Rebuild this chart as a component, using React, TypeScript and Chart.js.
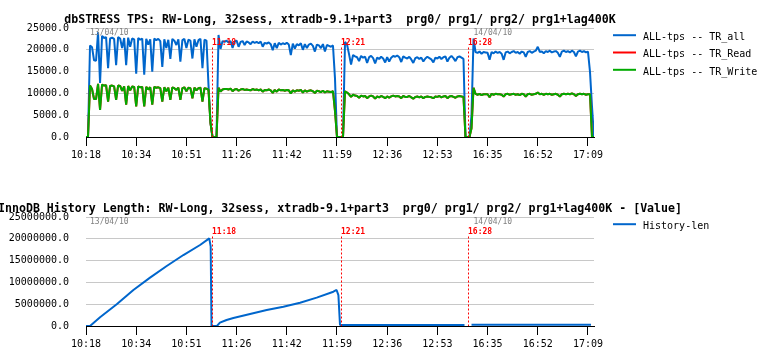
import React, { useEffect, useRef } from 'react';
import { Chart, registerables } from 'chart.js';

Chart.register(...registerables);

// ---------- data ----------
const timeLabels = ['10:18', '10:34', '10:51', '11:26', '11:42', '11:59', '12:36', '12:53', '16:35', '16:52', '17:09'];
const tickIdx = [0, 25, 50, 75, 100, 125, 150, 175, 200, 225, 250];
const sampleMax = 253;

const markerIdx = [63, 127, 190];
const markerLabels = ['11:18', '12:21', '16:28'];
const dateIdx = [2, 193];
const dateLabels = ['13/04/10', '14/04/10'];

const topTitle = 'dbSTRESS TPS: RW-Long, 32sess, xtradb-9.1+part3  prg0/ prg1/ prg2/ prg1+lag400K';
const bottomTitle = 'InnoDB History Length: RW-Long, 32sess, xtradb-9.1+part3  prg0/ prg1/ prg2/ prg1+lag400K - [Value]';

const tpsTicks = [0, 5000, 10000, 15000, 20000, 25000];
const histTicks = [0, 5000000, 10000000, 15000000, 20000000, 25000000];

const trAll: number[] = [
  0, 0, 21000, 20600, 17600, 17500, 24000, 12400, 23200, 22700,
  22900, 15800, 22600, 22800, 22500, 16500, 22900, 22600, 20400, 22700,
  16500, 22800, 20700, 22600, 22400, 14500, 22700, 22300, 22600, 14300,
  22500, 21200, 22400, 15000, 22600, 22200, 22500, 22000, 16100, 22400,
  20400, 22300, 17900, 22500, 22100, 21100, 22400, 17300, 22200, 22500,
  20400, 22300, 22100, 18000, 22400, 20700, 22200, 22500, 15800, 22300,
  22100, 12000, 3300, 0, 0, 0, 23400, 20200, 22000, 21800,
  22100, 21700, 22000, 20400, 21900, 22100, 20700, 21800, 22000, 21100,
  21900, 21700, 21300, 21900, 21600, 21800, 21500, 21900, 20700, 21600,
  21400, 21700, 21300, 19900, 21500, 20400, 21600, 21200, 21500, 21300,
  21600, 21200, 18800, 21400, 20300, 21300, 21000, 21500, 20000, 21300,
  20400, 21200, 21400, 20900, 19600, 21200, 21000, 20400, 21300, 19600,
  21100, 20900, 20700, 21000, 13500, 0, 0, 0, 0, 21800,
  21200, 19000, 16600, 18800, 18500, 18300, 17400, 18600, 18200, 18400,
  17000, 18300, 18600, 18100, 16900, 18200, 17900, 18400, 18000, 17100,
  18300, 17300, 18200, 18600, 18400, 18700, 18300, 17200, 18500, 18200,
  18000, 18400, 17800, 17000, 18100, 18300, 17900, 18200, 17300, 18000,
  18400, 18100, 17800, 17100, 18200, 18000, 18400, 17900, 18300, 18500,
  17300, 18200, 18600, 18100, 17400, 18300, 18500, 18200, 17900, 0,
  0, 0, 5000, 22600, 19500, 19300, 19600, 19100, 19500, 19400,
  19300, 17700, 19500, 19200, 19600, 19300, 19500, 19100, 17700, 19400,
  19600, 19200, 19500, 19700, 19300, 19500, 19100, 19600, 19400, 18400,
  19500, 19700, 19300, 19600, 19800, 20700, 19500, 19600, 19200, 19700,
  19500, 19800, 19400, 19600, 19700, 19300, 18400, 19600, 19800, 19500,
  19700, 19400, 19800, 19500, 18500, 19600, 19800, 19500, 19700, 19400,
  19600, 15000, 7000, 0,
];

const trWrite: number[] = [
  0, 0, 11800, 11000, 8700, 8700, 12200, 6200, 12000, 11800,
  11900, 8100, 11700, 11800, 11600, 8500, 11800, 11700, 10600, 11600,
  7400, 11700, 10700, 11600, 11500, 7000, 11600, 11400, 11500, 7000,
  11500, 10900, 11400, 7400, 11500, 11300, 11400, 11200, 8100, 11400,
  10500, 11300, 8500, 11400, 11200, 10800, 11300, 8500, 11200, 11400,
  10500, 11300, 11200, 8900, 11300, 10700, 11200, 11300, 8100, 11200,
  11100, 10800, 3200, 0, 0, 0, 11300, 10400, 10900, 11000,
  11000, 10900, 11100, 10500, 10900, 11000, 10600, 10900, 11000, 10800,
  10900, 10800, 10700, 11000, 10800, 10900, 10700, 10900, 10400, 10800,
  10700, 10900, 10700, 10100, 10800, 10400, 10900, 10700, 10800, 10600,
  10800, 10700, 10000, 10700, 10400, 10700, 10600, 10800, 10200, 10700,
  10400, 10600, 10700, 10500, 10100, 10600, 10500, 10300, 10600, 10200,
  10500, 10400, 10300, 10500, 6000, 0, 0, 0, 0, 10500,
  10200, 9800, 9200, 9700, 9500, 9400, 9000, 9500, 9300, 9400,
  8900, 9300, 9500, 9300, 8800, 9300, 9100, 9400, 9200, 8900,
  9300, 9000, 9300, 9500, 9300, 9400, 9300, 8900, 9400, 9200,
  9200, 9400, 9100, 8800, 9200, 9300, 9100, 9300, 8900, 9200,
  9300, 9200, 9100, 8900, 9300, 9200, 9400, 9100, 9300, 9400,
  8900, 9300, 9400, 9200, 9000, 9300, 9400, 9300, 9200, 0,
  0, 0, 2000, 11300, 9900, 9700, 9900, 9600, 9800, 9800,
  9800, 9100, 9900, 9700, 9900, 9800, 9800, 9700, 9300, 9800,
  9900, 9700, 9800, 9900, 9700, 9800, 9600, 9900, 9800, 9300,
  9800, 9900, 9700, 9800, 9900, 10200, 9800, 9900, 9700, 9900,
  9800, 9900, 9700, 9800, 9900, 9700, 9300, 9800, 9900, 9800,
  9900, 9800, 10000, 9800, 9400, 9800, 9900, 9800, 9900, 9700,
  9800, 9800, 0, 0,
];

// TR_Read is drawn beneath TR_Write and coincides with it in the picture
const trRead: number[] = [
  0, 0, 11800, 11000, 8700, 8700, 12200, 6200, 12000, 11800,
  11900, 8100, 11700, 11800, 11600, 8500, 11800, 11700, 10600, 11600,
  7400, 11700, 10700, 11600, 11500, 7000, 11600, 11400, 11500, 7000,
  11500, 10900, 11400, 7400, 11500, 11300, 11400, 11200, 8100, 11400,
  10500, 11300, 8500, 11400, 11200, 10800, 11300, 8500, 11200, 11400,
  10500, 11300, 11200, 8900, 11300, 10700, 11200, 11300, 8100, 11200,
  11100, 10800, 3200, 0, 0, 0, 11300, 10400, 10900, 11000,
  11000, 10900, 11100, 10500, 10900, 11000, 10600, 10900, 11000, 10800,
  10900, 10800, 10700, 11000, 10800, 10900, 10700, 10900, 10400, 10800,
  10700, 10900, 10700, 10100, 10800, 10400, 10900, 10700, 10800, 10600,
  10800, 10700, 10000, 10700, 10400, 10700, 10600, 10800, 10200, 10700,
  10400, 10600, 10700, 10500, 10100, 10600, 10500, 10300, 10600, 10200,
  10500, 10400, 10300, 10500, 6000, 0, 0, 0, 0, 10500,
  10200, 9800, 9200, 9700, 9500, 9400, 9000, 9500, 9300, 9400,
  8900, 9300, 9500, 9300, 8800, 9300, 9100, 9400, 9200, 8900,
  9300, 9000, 9300, 9500, 9300, 9400, 9300, 8900, 9400, 9200,
  9200, 9400, 9100, 8800, 9200, 9300, 9100, 9300, 8900, 9200,
  9300, 9200, 9100, 8900, 9300, 9200, 9400, 9100, 9300, 9400,
  8900, 9300, 9400, 9200, 9000, 9300, 9400, 9300, 9200, 0,
  0, 0, 2000, 11300, 9900, 9700, 9900, 9600, 9800, 9800,
  9800, 9100, 9900, 9700, 9900, 9800, 9800, 9700, 9300, 9800,
  9900, 9700, 9800, 9900, 9700, 9800, 9600, 9900, 9800, 9300,
  9800, 9900, 9700, 9800, 9900, 10200, 9800, 9900, 9700, 9900,
  9800, 9900, 9700, 9800, 9900, 9700, 9300, 9800, 9900, 9800,
  9900, 9800, 10000, 9800, 9400, 9800, 9900, 9800, 9900, 9700,
  9800, 9800, 0, 0,
];

const histIdx: number[] = [
  0, 2, 7, 15.3, 23.6, 31.9, 40.2, 48.5, 56.8, 61.4, 62.1, 62.5,
  65.2, 66.7, 70, 73.4, 81.7, 90, 98.3, 106.6, 114.9, 123.2, 124.8, 125.7, 126.1, 126.5,
  188.5, 190, 192, 251.5,
];
const histVal: (number | null)[] = [
  0, 0, 2000000, 4970000, 8260000, 11090000, 13760000, 16280000, 18580000, 20100000, 18200000, 0,
  0, 760000, 1380000, 1830000, 2750000, 3670000, 4430000, 5350000, 6500000, 7870000, 8260000, 7100000, 3670000, 250000,
  250000, null, 300000, 300000,
];

// ---------- styling ----------
const MONO = '"DejaVu Sans Mono", monospace';
const BLUE = '#0066cc';
const RED = '#ff0000';
const GREEN = '#00aa00';

function decorPlugin(title: string) {
  return {
    id: 'decor',
    afterDatasetsDraw(chart: any) {
      const { ctx, chartArea: a, scales } = chart;
      const xs = scales.x;
      ctx.save();
      // date labels
      ctx.font = '8px ' + MONO;
      ctx.fillStyle = '#808080';
      ctx.textAlign = 'left';
      ctx.textBaseline = 'middle';
      dateIdx.forEach((d, k) => {
        ctx.fillText(dateLabels[k], xs.getPixelForValue(d), a.top + 5);
      });
      // event markers
      markerIdx.forEach((m, k) => {
        const px = Math.round(xs.getPixelForValue(m)) + 0.5;
        ctx.strokeStyle = RED;
        ctx.lineWidth = 1;
        ctx.setLineDash([2, 2]);
        ctx.beginPath();
        ctx.moveTo(px, a.top + 19.5);
        ctx.lineTo(px, a.bottom);
        ctx.stroke();
        ctx.setLineDash([]);
        ctx.font = 'bold 8px ' + MONO;
        ctx.fillStyle = RED;
        ctx.fillText(markerLabels[k], px - 0.5, a.top + 15.3);
      });
      ctx.restore();
    },
    afterDraw(chart: any) {
      const { ctx, chartArea: a } = chart;
      ctx.save();
      ctx.font = 'bold 11.6px ' + MONO;
      ctx.fillStyle = '#000';
      ctx.textAlign = 'center';
      ctx.textBaseline = 'middle';
      ctx.fillText(title, (a.left + a.right) / 2, a.top - 8);
      // legend
      ctx.textAlign = 'left';
      ctx.font = '10px ' + MONO;
      chart.data.datasets.forEach((ds: any, k: number) => {
        const y = a.top + 7.2 + k * 17.3;
        ctx.strokeStyle = ds.borderColor;
        ctx.lineWidth = 2;
        ctx.beginPath();
        ctx.moveTo(613, y);
        ctx.lineTo(636, y);
        ctx.stroke();
        ctx.fillStyle = '#000';
        ctx.fillText(ds.label, 643, y + 2.3);
      });
      ctx.restore();
    },
  };
}

function makeOptions(yTicks: number[], padTop: number, xHeight: number) {
  return {
    animation: false,
    responsive: false,
    devicePixelRatio: 1,
    layout: { padding: { top: padTop, right: 178, bottom: 0, left: 0 } },
    plugins: { legend: { display: false }, title: { display: false }, tooltip: { enabled: false } },
    elements: { point: { radius: 0 }, line: { tension: 0, borderJoinStyle: 'bevel' } },
    scales: {
      x: {
        type: 'linear',
        position: 'bottom',
        min: 0,
        max: sampleMax,
        afterBuildTicks: (axis: any) => {
          axis.ticks = tickIdx.map((v) => ({ value: v }));
        },
        afterFit: (axis: any) => {
          axis.height = xHeight;
        },
        ticks: {
          autoSkip: false,
          maxRotation: 0,
          minRotation: 0,
          padding: 3,
          color: '#000',
          font: { family: MONO, size: 10 },
          callback: (v: number) => {
            const k = tickIdx.indexOf(v);
            return k >= 0 ? timeLabels[k] : '';
          },
        },
        grid: { drawOnChartArea: false, drawTicks: true, tickLength: 9, color: '#000', tickColor: '#000' },
        border: { display: true, color: '#000', width: 1 },
      },
      y: {
        type: 'linear',
        min: yTicks[0],
        max: yTicks[yTicks.length - 1],
        afterBuildTicks: (axis: any) => {
          axis.ticks = yTicks.map((v) => ({ value: v }));
        },
        afterFit: (axis: any) => {
          axis.width = 86;
        },
        ticks: {
          padding: 17,
          color: '#000',
          font: { family: MONO, size: 10 },
          callback: (v: number) => Number(v).toFixed(1),
        },
        grid: {
          drawTicks: false,
          color: (c: any) => (c.tick && c.tick.value === 0 ? '#000' : '#c8c8c8'),
          lineWidth: 1,
        },
        border: { display: false },
      },
    },
  };
}

const lineDs = (label: string, color: string, data: any[], order: number) => ({
  label,
  data,
  borderColor: color,
  backgroundColor: color,
  borderWidth: 2,
  pointRadius: 0,
  fill: false,
  spanGaps: false,
  order,
});

export default function App() {
  const topRef = useRef<HTMLCanvasElement>(null);
  const botRef = useRef<HTMLCanvasElement>(null);

  useEffect(() => {
    const xy = (arr: number[]) => arr.map((v, i) => ({ x: i, y: v }));
    const top = new Chart(topRef.current as HTMLCanvasElement, {
      type: 'line',
      data: {
        datasets: [
          lineDs('ALL-tps -- TR_all', BLUE, xy(trAll), 3),
          lineDs('ALL-tps -- TR_Read', RED, xy(trRead), 2),
          lineDs('ALL-tps -- TR_Write', GREEN, xy(trWrite), 1),
        ],
      },
      options: makeOptions(tpsTicks, 28, 43) as any,
      plugins: [decorPlugin(topTitle)],
    });
    const bottom = new Chart(botRef.current as HTMLCanvasElement, {
      type: 'line',
      data: {
        datasets: [
          lineDs('History-len', BLUE, histIdx.map((x, i) => ({ x, y: histVal[i] })), 1),
        ],
      },
      options: makeOptions(histTicks, 37, 36) as any,
      plugins: [decorPlugin(bottomTitle)],
    });
    return () => {
      top.destroy();
      bottom.destroy();
    };
  }, []);

  return (
    <div style={{ position: 'absolute', left: 0, top: 0, width: 772, height: 362, background: '#fff' }}>
      <canvas ref={topRef} width={772} height={180} style={{ position: 'absolute', left: 0, top: 0, width: 772, height: 180 }} />
      <canvas ref={botRef} width={772} height={182} style={{ position: 'absolute', left: 0, top: 180, width: 772, height: 182 }} />
    </div>
  );
}
